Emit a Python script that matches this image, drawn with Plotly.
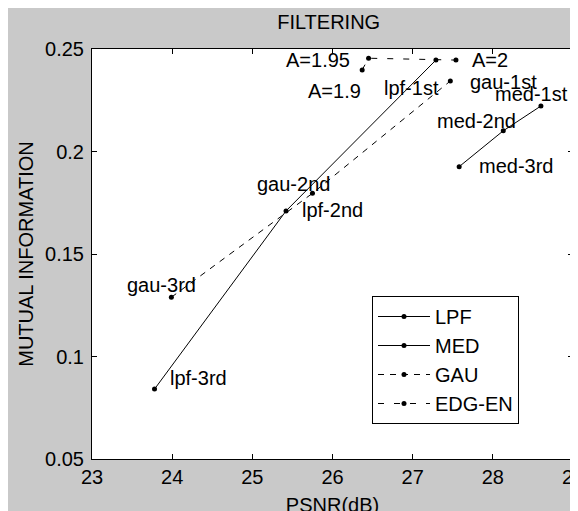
import plotly.graph_objects as go

# ---- data ----
lpf_x = [23.78, 25.42, 27.29]
lpf_y = [0.0841, 0.1710, 0.2446]
lpf_labels = ["lpf-3rd", "lpf-2nd", "lpf-1st"]

med_x = [27.58, 28.13, 28.60]
med_y = [0.1926, 0.2101, 0.2222]
med_labels = ["med-3rd", "med-2nd", "med-1st"]

gau_x = [23.99, 25.75, 27.47]
gau_y = [0.1289, 0.1796, 0.2344]
gau_labels = ["gau-3rd", "gau-2nd", "gau-1st"]

edg_x = [26.37, 26.45, 27.54]
edg_y = [0.2398, 0.2455, 0.2446]
edg_labels = ["A=1.9", "A=1.95", "A=2"]

x_ticks = [23, 24, 25, 26, 27, 28, 29]
y_ticks = [0.05, 0.1, 0.15, 0.2, 0.25]
y_ticktext = ["0.05", "0.1", "0.15", "0.2", "0.25"]

# label placements (x, y, anchor) for each annotated point
label_pos = {
    "lpf-3rd": (23.95, 0.0895, "left"),
    "lpf-2nd": (25.59, 0.1715, "left"),
    "lpf-1st": (26.62, 0.2310, "left"),
    "med-3rd": (27.80, 0.1929, "left"),
    "med-2nd": (27.28, 0.2149, "left"),
    "med-1st": (28.00, 0.2280, "left"),
    "gau-3rd": (23.41, 0.1349, "left"),
    "gau-2nd": (25.03, 0.1841, "left"),
    "gau-1st": (27.69, 0.2339, "left"),
    "A=1.9": (26.38, 0.2295, "right"),
    "A=1.95": (26.24, 0.2446, "right"),
    "A=2": (27.72, 0.2446, "left"),
}

FONT = "Liberation Sans, Arial, sans-serif"
FS = 20
BG = "#c9c9c9"

fig = go.Figure()
series = [
    ("LPF", lpf_x, lpf_y, "solid"),
    ("MED", med_x, med_y, "solid"),
    ("GAU", gau_x, gau_y, "6px,6px"),
    ("EDG-EN", edg_x, edg_y, "6px,10px"),
]
for name, xs, ys, dash in series:
    fig.add_trace(go.Scatter(
        x=xs, y=ys, name=name, mode="lines+markers",
        line=dict(color="black", width=1, dash=dash),
        marker=dict(color="black", size=5, symbol="circle"),
    ))

for lab, (ax_, ay_, anc) in label_pos.items():
    fig.add_annotation(x=ax_, y=ay_, text=lab, showarrow=False,
                       xanchor=anc, yanchor="middle",
                       font=dict(family=FONT, size=FS, color="black"))

# plot-area edges in figure pixels (page is offset by the 8px body margin)
L, R, T, B = 84, 565, 41, 451
pw, ph = R - L, B - T

fig.update_layout(
    width=578, height=511,
    margin=dict(l=L, r=578 - R, t=T, b=511 - B, autoexpand=False),
    paper_bgcolor=BG, plot_bgcolor="white",
    font=dict(family=FONT, size=FS, color="black"),
    title=dict(text="FILTERING", x=(320.7 - L) / pw, xref="paper", xanchor="center",
               y=1 - 13.7 / 511, yanchor="middle", yref="container",
               font=dict(family=FONT, size=FS, color="black")),
    showlegend=True,
    legend=dict(x=(364 - L) / pw, y=(B - 288) / ph, xanchor="left", yanchor="top",
                bgcolor="white", bordercolor="black", borderwidth=1,
                font=dict(family=FONT, size=FS, color="black"),
                itemwidth=52, tracegroupgap=0),
)
fig.update_xaxes(range=[23, 29], tickvals=x_ticks, ticks="inside", ticklen=5,
                 tickcolor="black", showgrid=False, zeroline=False, automargin=False,
                 showline=True, linecolor="black", linewidth=1, mirror="ticks",
                 ticklabeloverflow="allow",
                 tickfont=dict(family=FONT, size=FS, color="black"),
                 title=dict(text="PSNR(dB)", standoff=10,
                            font=dict(family=FONT, size=FS, color="black")))
fig.update_yaxes(range=[0.05, 0.25], tickvals=y_ticks, ticktext=y_ticktext,
                 ticks="inside", ticklen=5, automargin=False, ticklabelstandoff=3,
                 tickcolor="black", showgrid=False, zeroline=False,
                 showline=True, linecolor="black", linewidth=1, mirror="ticks",
                 ticklabeloverflow="allow",
                 tickfont=dict(family=FONT, size=FS, color="black"),
                 title=dict(text="MUTUAL INFORMATION", standoff=6,
                            font=dict(family=FONT, size=FS, color="black")))

fig.write_html("out.html")
